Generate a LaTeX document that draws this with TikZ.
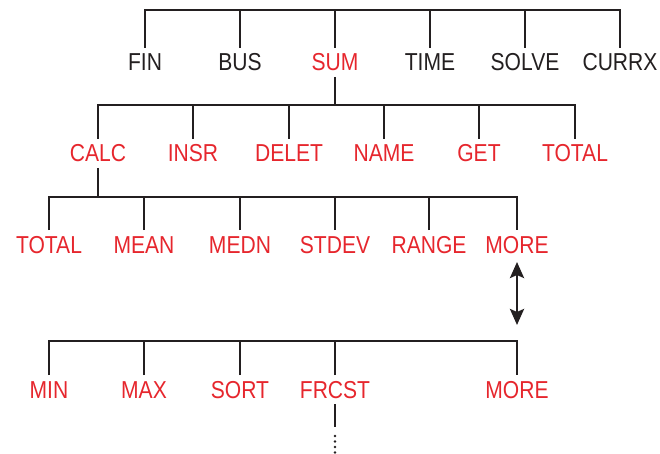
\documentclass[tikz,border=0pt]{standalone}
\usepackage{fontspec}
\setmainfont{Liberation Sans}[FakeStretch=0.86]
\usepackage{tikz}
\usetikzlibrary{arrows.meta}
\definecolor{hpred}{RGB}{230,38,45}
\definecolor{hpblack}{RGB}{35,31,32}

\begin{document}
\begin{tikzpicture}[x=1pt, y=-1pt, line width=2.4pt, color=hpblack,
  every node/.style={inner sep=0pt, outer ysep=6pt, text height=17pt, text depth=0pt,
    anchor=base, font=\fontsize{24.5}{29}\selectfont},
  key/.style={text=hpblack},
  soft/.style={text=hpred},
  dbl/.style={{Stealth[length=16pt,width=14pt,inset=3pt]}-{Stealth[length=16pt,width=14pt,inset=3pt]}, line width=2.8pt},
  dots/.style={line cap=round, dash pattern=on 0pt off 5.5pt, line width=2.6pt}]
  \useasboundingbox (0,0) rectangle (660,454);

  % top menu
  \node[key] (fin) at (145,71) {FIN};
  \node[key] (bus) at (240,71) {BUS};
  \node[soft] (sum) at (335,71) {SUM};
  \node[key] (time) at (430,71) {TIME};
  \node[key] (solve) at (525,71) {SOLVE};
  \node[key] (currx) at (620,71) {CURRX};
  \coordinate (b1) at (0,10);
  \draw (fin.north) -- (fin |- b1) -- (currx |- b1) -- (currx.north);
  \foreach \n in {bus,sum,time,solve} {
    \draw (\n.north) -- (\n |- b1);
  }

  % SUM menu
  \node[soft] (calc) at (98,162) {CALC};
  \node[soft] (insr) at (193,162) {INSR};
  \node[soft] (delet) at (289,162) {DELET};
  \node[soft] (name) at (384,162) {NAME};
  \node[soft] (get) at (479,162) {GET};
  \node[soft] (stot) at (575,162) {TOTAL};
  \coordinate (b2) at (0,105);
  \draw (sum.south) -- (sum |- b2);
  \draw (calc.north) -- (calc |- b2) -- (stot |- b2) -- (stot.north);
  \foreach \n in {insr,delet,name,get} {
    \draw (\n.north) -- (\n |- b2);
  }

  % CALC menu
  \node[soft] (ctot) at (49,253) {TOTAL};
  \node[soft] (mean) at (144,253) {MEAN};
  \node[soft] (medn) at (240,253) {MEDN};
  \node[soft] (stdev) at (335,253) {STDEV};
  \node[soft] (range) at (429,253) {RANGE};
  \node[soft] (more) at (517,253) {MORE};
  \coordinate (b3) at (0,197);
  \draw (calc.south) -- (calc |- b3);
  \draw (ctot.north) -- (ctot |- b3) -- (more |- b3) -- (more.north);
  \foreach \n in {mean,medn,stdev,range} {
    \draw (\n.north) -- (\n |- b3);
  }

  % second page of CALC
  \node[soft] (min) at (49,398) {MIN};
  \node[soft] (max) at (144,398) {MAX};
  \node[soft] (sort) at (240,398) {SORT};
  \node[soft] (frcst) at (335,398) {FRCST};
  \node[soft] (more2) at (517,398) {MORE};
  \coordinate (b4) at (0,341);
  \draw[dbl, shorten <=3pt, shorten >=16pt] (more.south) -- (more |- b4);
  \draw (min.north) -- (min |- b4) -- (more2 |- b4) -- (more2.north);
  \foreach \n in {max,sort,frcst} {
    \draw (\n.north) -- (\n |- b4);
  }
  \draw (frcst.south) -- ++(0,23) coordinate (fr1);
  \draw[dots] ([yshift=-9pt]fr1) -- ++(0,18);
\end{tikzpicture}
\end{document}
